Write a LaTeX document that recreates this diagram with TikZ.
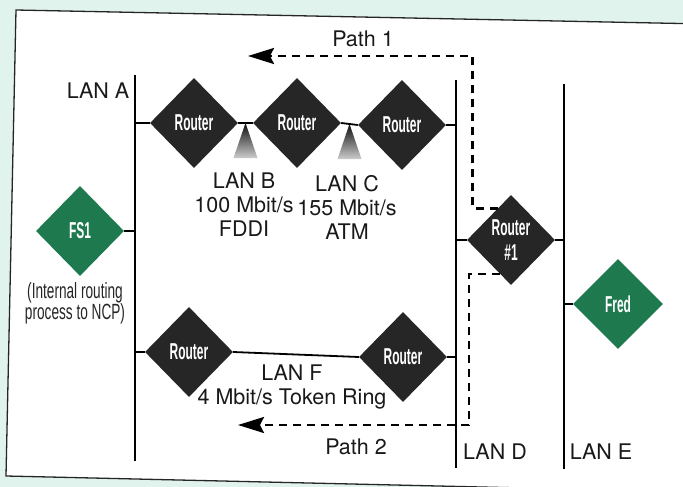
\documentclass[tikz,border=0pt]{standalone}
\usepackage{fontspec}
\setmainfont{TeX Gyre Heros}
\newfontfamily\estrecha{Liberation Sans}[FakeStretch=0.62]
\newfontfamily\estrechab{Liberation Sans}[FakeStretch=0.52]
\usepackage{tikz}
\usetikzlibrary{shapes.geometric, arrows.meta, positioning, calc}
\usepackage{xcolor}
\definecolor{fondo}{RGB}{224,243,237}
\definecolor{oscuro}{RGB}{38,38,38}
\definecolor{verde}{RGB}{30,122,78}
\tikzset{
  enrutador/.style={diamond, draw=none, fill=oscuro, text=white,
                    minimum width=88pt, minimum height=90pt, inner sep=0pt,
                    align=center,
                    font=\estrechab\bfseries\fontsize{23}{25}\selectfont},
  servidor/.style={enrutador, fill=verde},
  flecha/.style={-{Stealth[length=26pt, width=16pt, inset=4pt]},
                 line width=2.6pt, dash pattern=on 8pt off 6pt}
}

\begin{document}
\begin{tikzpicture}[
  x=1pt, y=-1pt,
  etiqueta/.style={font=\fontsize{21.5}{24}\selectfont, align=center,
                   text=black!90, inner sep=0pt},
  nota/.style={font=\estrecha\fontsize{22}{21}\selectfont, align=center,
               text=black!85, inner sep=0pt},
  segmento/.style={line width=2pt},
  enlace/.style={line width=1.8pt},
  cuna/.style={top color=black!95, bottom color=black!20, draw=none}
]
  \useasboundingbox (0,0) rectangle (683,487);
  % ── Fondo y marco ──
  \fill[fondo] (0,0) rectangle (683,487);
  \filldraw[fill=white, draw=black!85, line width=1.3pt]
        (16,10) -- (705,24) -- (697,492) -- (6,476) -- cycle;

  % ── Segmentos LAN A, D, E ──
  \coordinate (aArr) at (135,75);  \coordinate (aAba) at (135,461);
  \coordinate (dArr) at (456,80);  \coordinate (dAba) at (456,468);
  \coordinate (eArr) at (564,84);  \coordinate (eAba) at (564,469);
  \draw[segmento] (aArr) -- (aAba);
  \draw[segmento] (dArr) -- (dAba);
  \draw[segmento] (eArr) -- (eAba);

  % ── Enrutadores y servidores ──
  \node[enrutador] (r1)   at (194,123) {Router};
  \node[enrutador] (r2)   at (297,123) {Router};
  \node[enrutador] (r3)   at (402,125) {Router};
  \node[enrutador] (r4)   at (189,352) {Router};
  \node[enrutador] (r5)   at (403,357) {Router};
  \node[enrutador] (rr)   at (511,240) {Router\\\#1};
  \node[servidor]  (fs1)  at (80,231)  {FS1};
  \node[servidor, minimum width=90pt] (fred) at (618,304) {Fred};

  % ── Enlaces ──
  \draw[enlace] (r1.west)   -- (r1.west -| aArr);
  \draw[enlace] (r1.east)   -- (r2.west);
  \draw[enlace] (r2.east)   -- (r3.west);
  \draw[enlace] (r3.east)   -- (r3.east -| dArr);
  \draw[enlace] (fs1.east)  -- (fs1.east -| aArr);
  \draw[enlace] (r4.west)   -- (r4.west -| aArr);
  \draw[enlace] (r4.east)   -- (r5.west);
  \draw[enlace] (r5.east)   -- (r5.east -| dArr);
  \draw[enlace] (rr.west)   -- (rr.west -| dArr);
  \draw[enlace] (rr.east)   -- (rr.east -| eArr);
  \draw[enlace] (fred.west) -- (fred.west -| eArr);

  % ── LAN B y LAN C (cunas) ──
  \shade[cuna] ($(r1.east)!0.5!(r2.west)$) -- ++(12,35) -- ++(-24,0) -- cycle;
  \shade[cuna] ($(r2.east)!0.5!(r3.west)$) -- ++(12,35) -- ++(-24,0) -- cycle;

  % ── Etiquetas ──
  \node[etiqueta] (lA)  at (98,91)   {LAN A};
  \node[etiqueta] (lB)  at (244,205) {LAN B\\100 Mbit/s\\FDDI};
  \node[etiqueta] (lC)  at (347,207) {LAN C\\155 Mbit/s\\ATM};
  \node[etiqueta] (lF)  at (292,387) {LAN F\\4 Mbit/s Token Ring};
  \node[etiqueta] (lD)  at (495,452) {LAN D};
  \node[etiqueta] (lE)  at (601,452) {LAN E};
  \node[etiqueta] (p1)  at (363,39)  {Path 1};
  \node[etiqueta] (p2)  at (356,447) {Path 2};
  \node[nota]     (fsn) at (75,303)  {(Internal routing\\process to NCP)};

  % ── Rutas 1 y 2 ──
  \coordinate (p1fin) at (248,56);
  \coordinate (p2fin) at (238,425);
  \draw[flecha] ($(rr.west)!0.7!(rr.north)$)  -- ++(-25,0) |- (p1fin);
  \draw[flecha] ($(rr.west)!0.75!(rr.south)$) -- ++(-31,0) |- (p2fin);
\end{tikzpicture}
\end{document}
